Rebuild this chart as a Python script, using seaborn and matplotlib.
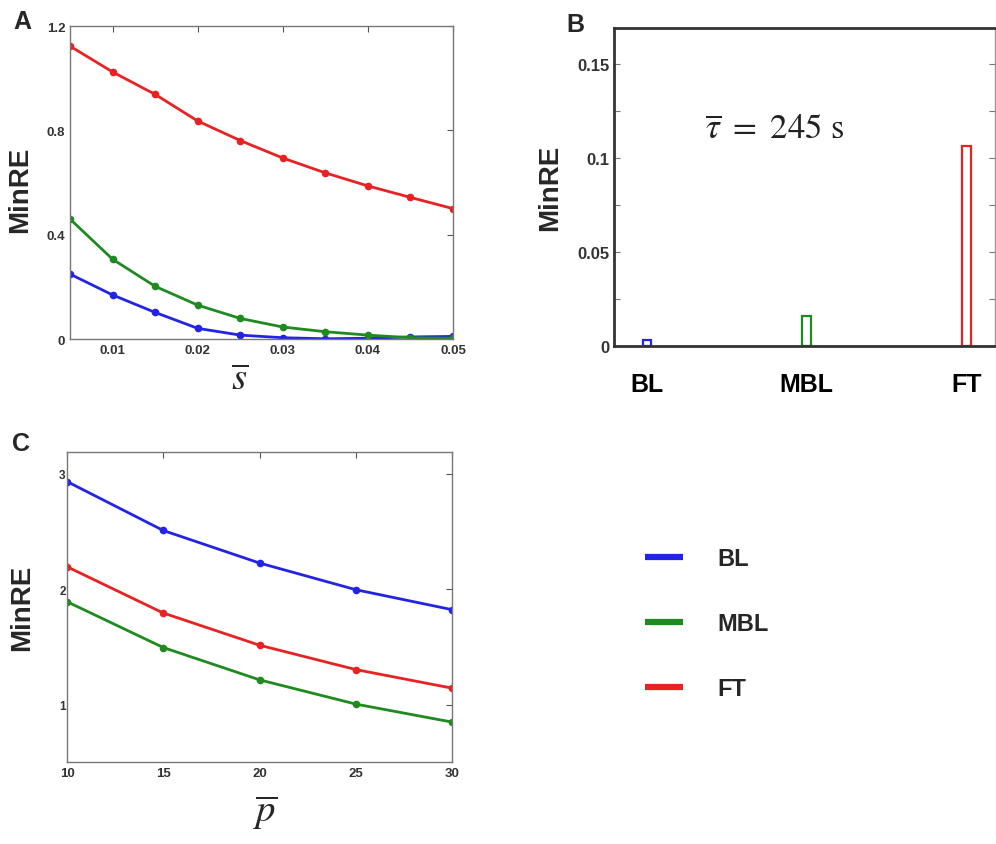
import numpy as np
import pandas as pd
import matplotlib
matplotlib.use("Agg")
import matplotlib.pyplot as plt
import seaborn as sns
from matplotlib.lines import Line2D
from matplotlib.ticker import MultipleLocator

sns.set_theme(style="white")
plt.rcParams['font.family'] = ['Liberation Sans', 'DejaVu Sans']
plt.rcParams['mathtext.fontset'] = 'stix'

methods = ["BL", "MBL", "FT"]
colors = {"BL": "#2323e6", "MBL": "#1f8a1f", "FT": "#e82222"}

# Panel A
s_bar = [0.005, 0.01, 0.015, 0.02, 0.025, 0.03, 0.035, 0.04, 0.045, 0.05]
a_BL = [0.249, 0.169, 0.102, 0.041, 0.015, 0.005, 0.001, 0.003, 0.008, 0.010]
a_MBL = [0.460, 0.306, 0.202, 0.130, 0.079, 0.046, 0.028, 0.015, 0.005, 0.003]
a_FT = [1.123, 1.024, 0.938, 0.836, 0.761, 0.694, 0.637, 0.587, 0.543, 0.500]

# Panel B
b_values = [0.0032, 0.016, 0.1068]

# Panel C
p_bar = [10, 15, 20, 25, 30]
c_BL = [2.934, 2.51, 2.228, 1.997, 1.824]
c_MBL = [1.893, 1.496, 1.216, 1.006, 0.850]
c_FT = [2.196, 1.795, 1.516, 1.305, 1.144]

dfA = pd.DataFrame({
    "x": s_bar * 3,
    "y": a_BL + a_MBL + a_FT,
    "method": ["BL"] * len(s_bar) + ["MBL"] * len(s_bar) + ["FT"] * len(s_bar),
})
dfB = pd.DataFrame({"method": methods, "y": b_values})
dfC = pd.DataFrame({
    "x": p_bar * 3,
    "y": c_BL + c_MBL + c_FT,
    "method": ["BL"] * len(p_bar) + ["MBL"] * len(p_bar) + ["FT"] * len(p_bar),
})

fig = plt.figure(figsize=(9.96, 8.45), dpi=100)
axA = fig.add_axes([0.0703, 0.5976, 0.3845, 0.3704])
axB = fig.add_axes([0.6165, 0.5893, 0.3825, 0.3763])
axC = fig.add_axes([0.0673, 0.0970, 0.3866, 0.3669])

tick_col = "#333333"


def style_line_axes(ax):
    for sp in ax.spines.values():
        sp.set_color("#777777")
        sp.set_linewidth(1.0)
    ax.tick_params(direction="in", length=4, width=0.8, color="#555555",
                   top=True, right=True, labelsize=9.5, labelcolor=tick_col)
    for lab in ax.get_xticklabels() + ax.get_yticklabels():
        lab.set_fontweight("bold")


# Panel A
sns.lineplot(data=dfA, x="x", y="y", hue="method", hue_order=methods,
             palette=colors, marker="o", markersize=5.5, markeredgewidth=0,
             linewidth=2, ax=axA, legend=False)
axA.set_xlim(0.005, 0.05)
axA.set_ylim(0, 1.2)
axA.set_xticks([0.01, 0.02, 0.03, 0.04, 0.05])
axA.set_xticklabels(["0.01", "0.02", "0.03", "0.04", "0.05"])
axA.set_yticks([0, 0.4, 0.8, 1.2])
axA.set_yticklabels(["0", "0.4", "0.8", "1.2"])
style_line_axes(axA)
axA.set_ylabel("MinRE", fontsize=20, fontweight="bold")
axA.yaxis.set_label_coords(-0.096, 0.48)
axA.set_xlabel(r"$\overline{s}$", fontsize=28)
axA.xaxis.set_label_coords(0.444, -0.07)

# Panel B
sns.barplot(data=dfB, x="method", y="y", hue="method", hue_order=methods,
            palette=colors, fill=False, width=0.055, linewidth=1.6,
            ax=axB, legend=False)
axB.set_xlim(-0.207, 2.18)
axB.set_ylim(0, 0.1694)
axB.set_yticks([0, 0.05, 0.1, 0.15])
axB.set_yticklabels(["0", "0.05", "0.1", "0.15"])
axB.yaxis.set_minor_locator(MultipleLocator(0.025))
axB.tick_params(axis="y", which="both", direction="in", left=True, right=True,
                length=4, width=0.8, color="#777777")
axB.tick_params(axis="y", labelsize=12, labelcolor=tick_col)
axB.tick_params(axis="x", length=0, pad=19, labelsize=18)
for lab in axB.get_xticklabels():
    lab.set_fontweight("bold")
    lab.set_color("black")
for lab in axB.get_yticklabels():
    lab.set_fontweight("bold")
for side in ["left", "bottom", "top"]:
    axB.spines[side].set_color("#333333")
    axB.spines[side].set_linewidth(2.0)
axB.spines["right"].set_color("#999999")
axB.spines["right"].set_linewidth(1.0)
axB.set_xlabel("")
axB.set_ylabel("MinRE", fontsize=20, fontweight="bold")
axB.yaxis.set_label_coords(-0.134, 0.5)
axB.text(0.24, 0.685, r"$\overline{\tau}\ =\ 245\ \mathrm{s}$", fontsize=25,
         transform=axB.transAxes, ha="left", va="center", color="#222222")

# Panel C
sns.lineplot(data=dfC, x="x", y="y", hue="method", hue_order=methods,
             palette=colors, marker="o", markersize=5.5, markeredgewidth=0,
             linewidth=2, ax=axC, legend=False)
axC.set_xlim(10, 30)
axC.set_ylim(0.504, 3.19)
axC.set_xticks([10, 15, 20, 25, 30])
axC.set_yticks([1, 2, 3])
style_line_axes(axC)
axC.tick_params(axis="y", labelsize=8.5, pad=1)
axC.set_ylabel("MinRE", fontsize=20, fontweight="bold")
axC.yaxis.set_label_coords(-0.083, 0.5)
axC.set_xlabel(r"$\overline{p}$", fontsize=28)
axC.xaxis.set_label_coords(0.514, -0.10)

# Legend
handles = [Line2D([], [], color=colors[m], lw=4.5, solid_capstyle="butt")
           for m in methods]
fig.legend(handles, methods, loc="upper left", bbox_to_anchor=(0.6476, 0.3515),
           frameon=False, borderpad=0, borderaxespad=0,
           handlelength=1.6, handletextpad=1.48, labelspacing=1.78,
           prop={"weight": "bold", "size": 17})

# Panel letters
fig.text(0.013, 0.988, "A", fontsize=18, fontweight="bold", va="top")
fig.text(0.569, 0.985, "B", fontsize=18, fontweight="bold", va="top")
fig.text(0.012, 0.489, "C", fontsize=18, fontweight="bold", va="top")

fig.savefig("out.png", dpi=100)
